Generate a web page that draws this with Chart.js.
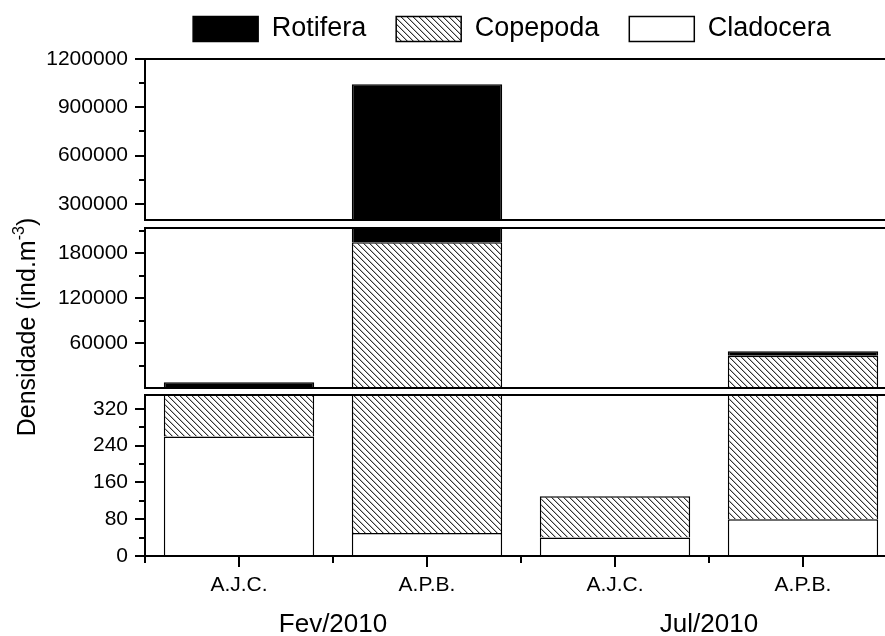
<!DOCTYPE html>
<html>
<head>
<meta charset="utf-8">
<script src="https://cdn.jsdelivr.net/npm/chart.js@4.4.1/dist/chart.umd.min.js"></script>
<style>
html,body{margin:0;padding:0;background:#fff;overflow:hidden}
canvas{display:block}
</style>
</head>
<body>
<canvas id="c" width="885" height="636" style="width:885px;height:636px"></canvas>
<script>
// ---- data ----
const categories = ['A.J.C.', 'A.P.B.', 'A.J.C.', 'A.P.B.'];
const groupLabels = ['Fev/2010', 'Jul/2010'];
const seriesNames = ['Cladocera', 'Copepoda', 'Rotifera'];
const cladocera = [260, 50, 40, 80];
const copepoda = [600, 194950, 90, 42900];
const rotifera = [6800, 848000, 0, 6300];
const ticksTop = [300000, 600000, 900000, 1200000];
const ticksMid = [60000, 120000, 180000];
const ticksLow = [0, 80, 160, 240, 320];
const rangeTop = [200000, 1200000];
const rangeMid = [0, 214000];
const rangeLow = [0, 350];
const yTitle = 'Densidade (ind.m';
const yTitleSup = '-3';
const yTitleEnd = ')';

// ---- layout / style ----
const FONT = '"Liberation Sans", Arial, Helvetica, sans-serif';
const LAYOUT = {
  left: 145, right: 897,
  panels: { yTop: [59, 220], yMid: [228, 388], yLow: [395, 556] },
  legendCenter: 512, legendBoxTop: 15.5,
  minorTick: 6, xMinorTick: 7,
  groupY: 625, titleX: 35, titleY: 327
};

Chart.defaults.font.family = FONT;
Chart.defaults.color = '#000';

const canvas = document.getElementById('c');
const mainCtx = canvas.getContext('2d');

function makeHatch() {
  const n = 6;
  const c = document.createElement('canvas');
  c.width = n; c.height = n;
  const g = c.getContext('2d');
  g.fillStyle = '#fff';
  g.fillRect(0, 0, n, n);
  for (let i = 0; i < n; i++) {
    g.fillStyle = '#333';
    g.fillRect(i, i, 1, 1);
    g.fillStyle = '#b8b8b8';
    g.fillRect((i + 1) % n, i, 1, 1);
  }
  return mainCtx.createPattern(c, 'repeat');
}
const hatch = makeHatch();

const seriesData = [cladocera, copepoda, rotifera];
const seriesFill = ['#ffffff', hatch, '#000000'];
const panelIds = ['yLow', 'yMid', 'yTop'];

const datasets = [];
panelIds.forEach(pid => {
  seriesData.forEach((arr, k) => {
    datasets.push({
      label: seriesNames[k],
      data: arr,
      yAxisID: pid,
      backgroundColor: seriesFill[k],
      borderColor: '#000',
      borderWidth: 1.5,
      borderSkipped: 'start',
      inflateAmount: 0,
      barPercentage: 0.8,
      categoryPercentage: 1.0,
      stack: 's'
    });
  });
});

const tickSets = { yTop: ticksTop, yMid: ticksMid, yLow: ticksLow };
const ranges = { yTop: rangeTop, yMid: rangeMid, yLow: rangeLow };

function yScale(id) {
  return {
    type: 'linear',
    position: 'left',
    stack: 'y',
    stackWeight: 1,
    stacked: true,
    min: ranges[id][0],
    max: ranges[id][1],
    afterBuildTicks: (s) => { s.ticks = tickSets[id].map(v => ({ value: v })); },
    ticks: {
      font: { size: 21 },
      color: '#000',
      padding: 7,
      autoSkip: false,
      callback: (v) => String(v)
    },
    grid: { display: true, drawOnChartArea: false, drawTicks: true, tickLength: 10, lineWidth: 2, color: '#000' },
    border: { display: false }
  };
}

const brokenAxis = {
  id: 'brokenAxis',
  afterLayout(chart) {
    const L = LAYOUT;
    const top = L.panels.yTop[0], bottom = L.panels.yLow[1];
    Object.assign(chart.chartArea, { left: L.left, right: L.right, top, bottom, width: L.right - L.left, height: bottom - top });
    for (const id of Object.keys(L.panels)) {
      const s = chart.scales[id];
      const [t, b] = L.panels[id];
      s.left = 0; s.right = L.left; s.width = L.left;
      s.top = t; s.bottom = b; s.height = b - t;
      s.configure();
    }
    const x = chart.scales.x;
    x.left = L.left; x.right = L.right; x.width = L.right - L.left;
    x.top = bottom; x.bottom = chart.height; x.height = chart.height - bottom;
    x.configure();
    const lg = chart.legend;
    if (lg) {
      lg.left = L.legendCenter - 420; lg.right = L.legendCenter + 420; lg.width = 840;
      lg.top = L.legendBoxTop - lg.options.labels.padding;
    }
  },
  beforeDatasetDraw(chart, args) {
    const s = chart.scales[args.meta.yAxisID];
    const ctx = chart.ctx;
    ctx.save();
    ctx.beginPath();
    ctx.rect(LAYOUT.left, s.top, LAYOUT.right - LAYOUT.left, s.bottom - s.top);
    ctx.clip();
  },
  afterDatasetDraw(chart) {
    chart.ctx.restore();
  },
  afterDatasetsDraw(chart) {
    const ctx = chart.ctx;
    const L = LAYOUT;
    ctx.save();
    ctx.strokeStyle = '#000';
    ctx.lineWidth = 2;
    // panel frames
    for (const id of Object.keys(L.panels)) {
      const [t, b] = L.panels[id];
      ctx.strokeRect(L.left, t, L.right - L.left, b - t);
    }
    // minor y ticks
    for (const id of Object.keys(L.panels)) {
      const s = chart.scales[id];
      const tk = tickSets[id];
      const step = tk[1] - tk[0];
      const cands = tk.map(v => v - step / 2).concat([tk[tk.length - 1] + step / 2]);
      ctx.beginPath();
      cands.forEach(v => {
        if (v < s.min || v > s.max) return;
        const y = Math.round(s.getPixelForValue(v));
        ctx.moveTo(L.left - L.minorTick, y);
        ctx.lineTo(L.left, y);
      });
      ctx.stroke();
    }
    // x boundary ticks
    const xs = chart.scales.x;
    ctx.beginPath();
    for (let i = 0; i <= categories.length; i++) {
      const x = Math.round(xs.getPixelForValue(i - 0.5));
      ctx.moveTo(x, L.panels.yLow[1]);
      ctx.lineTo(x, L.panels.yLow[1] + L.xMinorTick);
    }
    ctx.stroke();
    // group labels
    ctx.fillStyle = '#000';
    ctx.font = '26px ' + FONT;
    ctx.textAlign = 'center';
    ctx.textBaseline = 'middle';
    const per = categories.length / groupLabels.length;
    groupLabels.forEach((g, gi) => {
      const x = xs.getPixelForValue(gi * per + (per - 1) / 2);
      ctx.fillText(g, x, L.groupY);
    });
    ctx.restore();
  },
  afterDraw(chart) {
    const ctx = chart.ctx;
    const L = LAYOUT;
    ctx.save();
    ctx.translate(L.titleX, L.titleY);
    ctx.rotate(-Math.PI / 2);
    ctx.fillStyle = '#000';
    ctx.textBaseline = 'alphabetic';
    ctx.textAlign = 'left';
    const f1 = '25px ' + FONT, f2 = '16px ' + FONT;
    ctx.font = f1;
    const w1 = ctx.measureText(yTitle).width;
    const w3 = ctx.measureText(yTitleEnd).width;
    ctx.font = f2;
    const w2 = ctx.measureText(yTitleSup).width;
    let x = -(w1 + w2 + w3) / 2;
    ctx.font = f1; ctx.fillText(yTitle, x, 0); x += w1;
    ctx.font = f2; ctx.fillText(yTitleSup, x, -11); x += w2;
    ctx.font = f1; ctx.fillText(yTitleEnd, x, 0);
    ctx.restore();
  }
};

new Chart(canvas, {
  type: 'bar',
  data: { labels: categories, datasets },
  options: {
    responsive: false,
    devicePixelRatio: 1,
    animation: false,
    events: [],
    layout: { padding: { top: 0, right: 0, bottom: 0, left: 0 } },
    plugins: {
      legend: {
        display: true,
        position: 'top',
        reverse: true,
        labels: {
          filter: (item) => item.datasetIndex < seriesNames.length,
          font: { size: 27 },
          color: '#000',
          boxWidth: 65,
          boxHeight: 25,
          padding: 30
        }
      },
      tooltip: { enabled: false },
      title: { display: false }
    },
    scales: {
      x: {
        type: 'category',
        stacked: true,
        offset: true,
        grid: { display: true, drawOnChartArea: false, offset: false, drawTicks: true, tickLength: 11, lineWidth: 2, color: '#000' },
        border: { display: false },
        ticks: { font: { size: 21 }, color: '#000', padding: 6, maxRotation: 0, autoSkip: false }
      },
      yTop: yScale('yTop'),
      yMid: yScale('yMid'),
      yLow: yScale('yLow')
    }
  },
  plugins: [brokenAxis]
});
</script>
</body>
</html>
